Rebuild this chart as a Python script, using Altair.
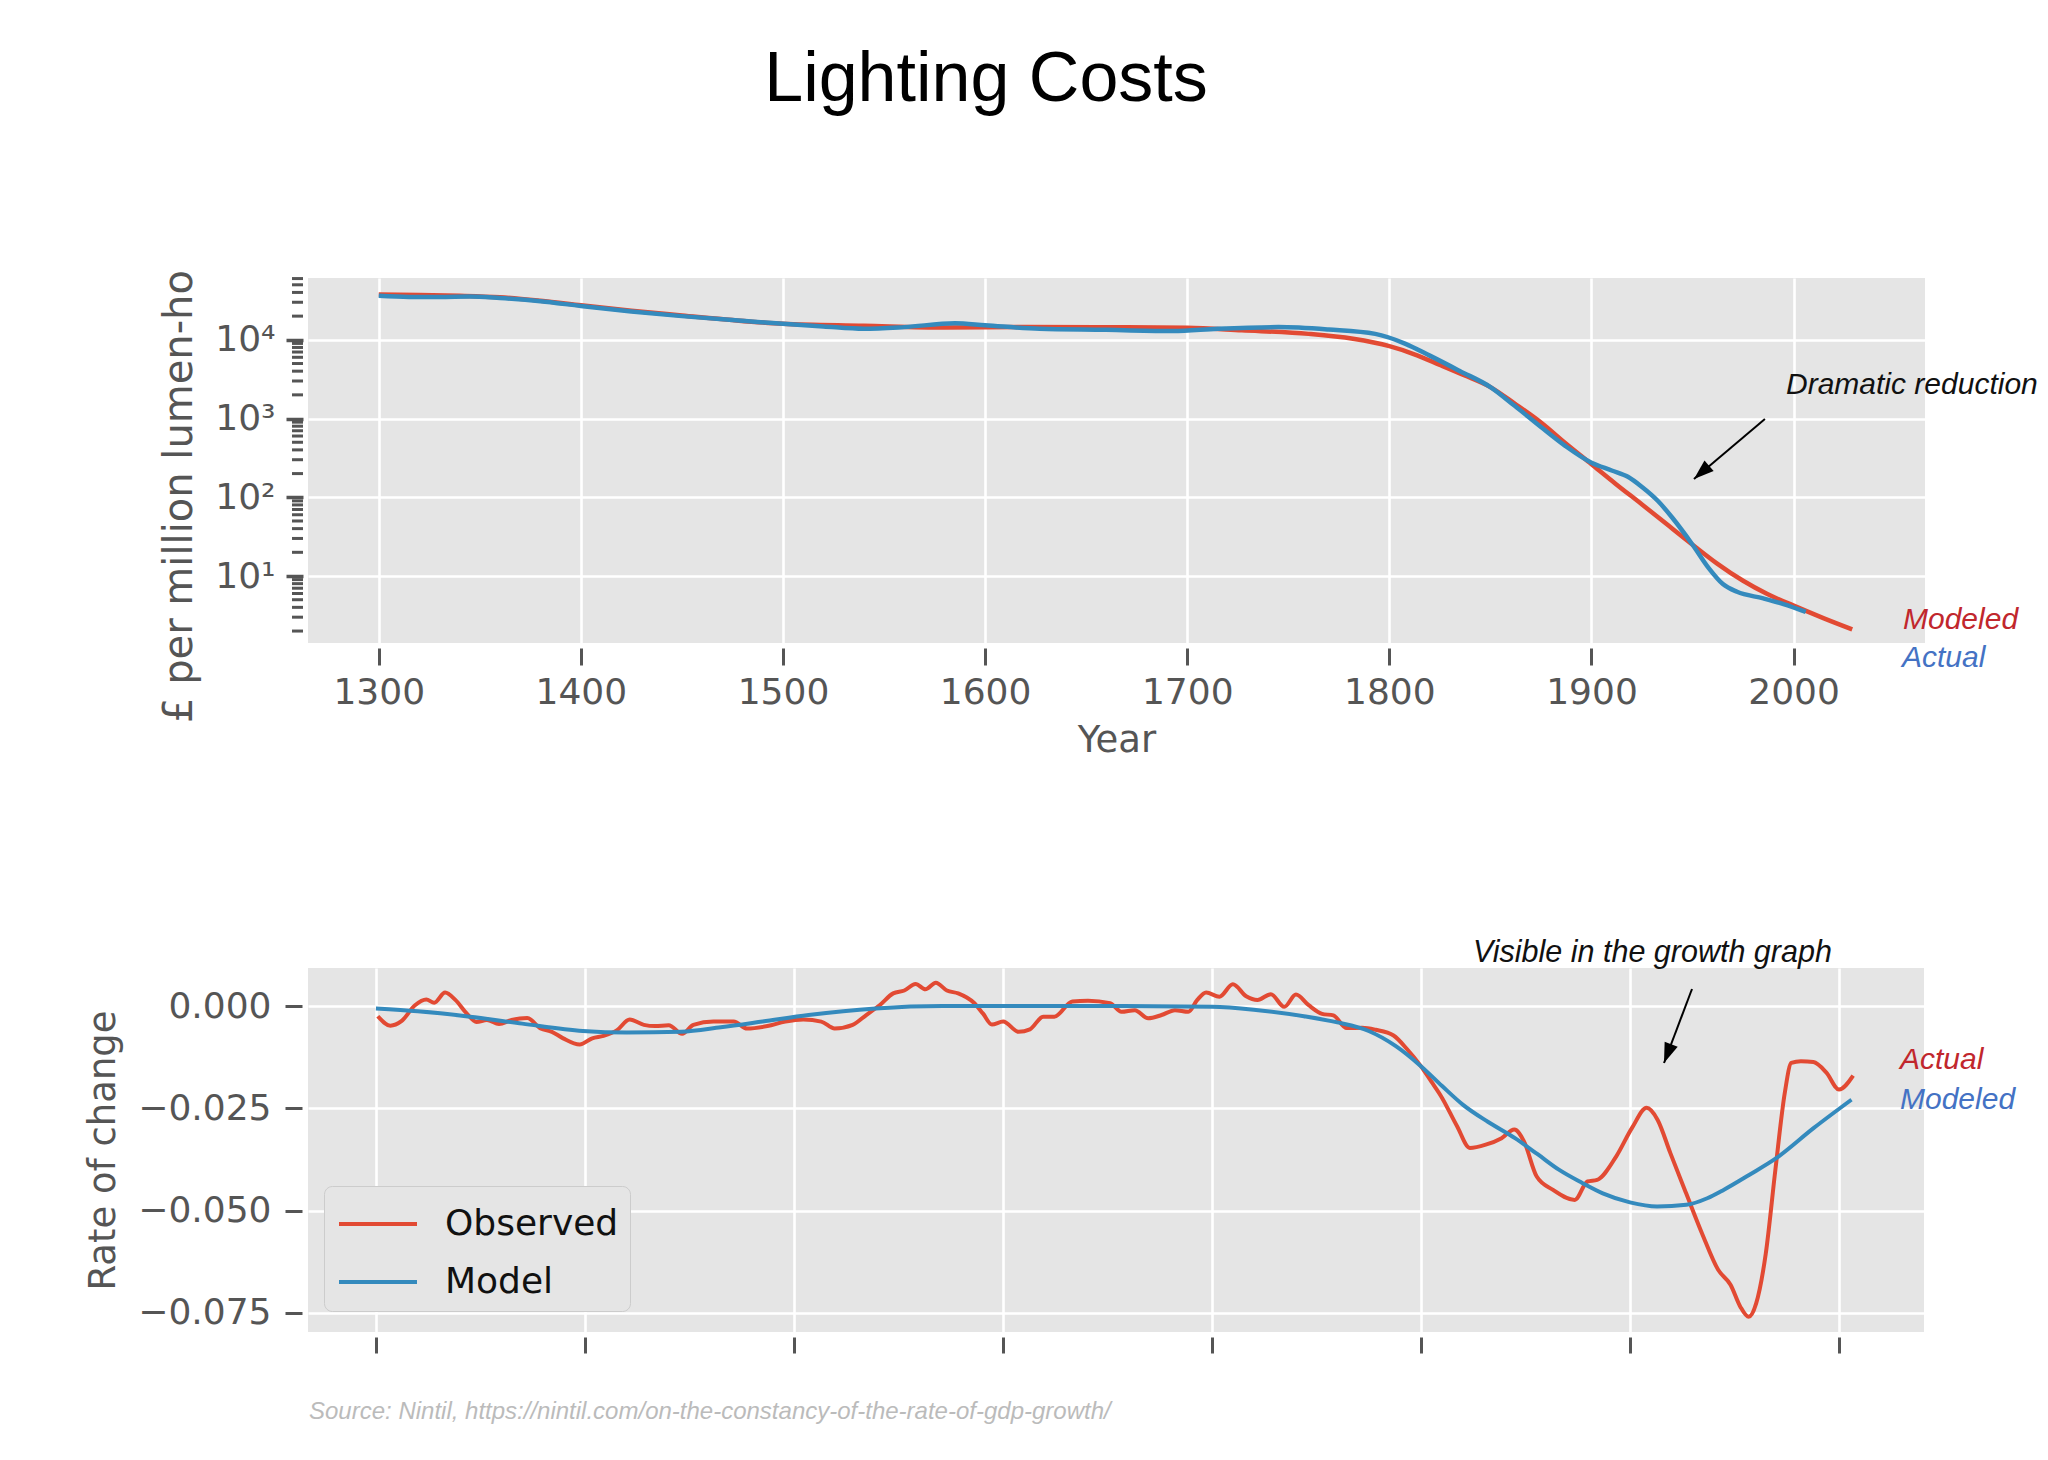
import altair as alt
import pandas as pd

# ---------------- data: top panel (cost, log scale) ----------------
model_years = [1300, 1320, 1340, 1360, 1380, 1400, 1425, 1450, 1475, 1500, 1540, 1580,
               1620, 1660, 1700, 1727, 1760, 1782, 1800, 1812, 1825, 1837, 1850, 1862,
               1875, 1887, 1900, 1912, 1925, 1937, 1950, 1962, 1975, 1987, 2000, 2015, 2029]
model_cost = [37600, 37150, 36300, 34700, 31300, 27500, 23400, 20400, 17800, 16000, 15100, 14300,
              14600, 14450, 14200, 13200, 11900, 10300, 8300, 6600, 4800, 3550, 2510, 1550,
              890, 490, 263, 148, 81, 46, 25, 14.5, 8.7, 5.9, 4.2, 2.9, 2.1]

actual_years = [1300, 1315, 1330, 1345, 1360, 1380, 1400, 1425, 1450, 1475, 1500, 1520, 1540,
                1560, 1585, 1600, 1627, 1660, 1693, 1715, 1745, 1770, 1793, 1808, 1820, 1835,
                1850, 1862, 1875, 1887, 1900, 1910, 1918, 1925, 1933, 1940, 1950, 1958, 1965,
                1972, 1985, 1995, 2006]
actual_cost = [36300, 35100, 35100, 35500, 33900, 30900, 26900, 22900, 20000, 17800, 16000, 14800, 13800,
               14500, 16200, 15300, 13800, 13400, 12900, 13800, 14500, 13500, 11900, 8900, 6300, 4000,
               2510, 1450, 780, 450, 275, 219, 182, 135, 89, 55, 25, 12.6, 7.9,
               6.3, 5.2, 4.4, 3.5]

# ---------------- data: bottom panel (rate of change) ----------------
obs_years = [1300.9, 1306.9, 1312.2, 1318.7, 1324.1, 1327.9, 1333.1, 1338.0, 1343.4, 1348.1,
             1353.1, 1358.9, 1364.9, 1372.4, 1378.8, 1384.2, 1389.6, 1397.5, 1403.5, 1408.9,
             1415.4, 1421.4, 1428.2, 1433.6, 1440.1, 1446.5, 1451.9, 1461.5, 1471.2, 1477.6,
             1487.3, 1495.9, 1504.5, 1513.1, 1519.5, 1528.1, 1534.6, 1541.0, 1547.5, 1552.8,
             1558.2, 1562.9, 1567.9, 1573.2, 1578.6, 1586.1, 1590.4, 1594.7, 1600.1, 1607.5,
             1612.9, 1619.3, 1624.6, 1633.2, 1640.7, 1651.3, 1656.7, 1663.1, 1669.5, 1675.9,
             1682.3, 1688.7, 1693.0, 1697.2, 1703.6, 1710.0, 1716.4, 1721.8, 1728.2, 1734.6,
             1740.2, 1746.3, 1752.7, 1758.1, 1764.5, 1771.9, 1778.3, 1786.9, 1793.3, 1799.7,
             1805.0, 1809.7, 1817.3, 1823.4, 1831.0, 1838.6, 1844.7, 1849.3, 1855.4, 1863.0,
             1873.6, 1879.7, 1884.3, 1893.4, 1901.0, 1908.0, 1913.2, 1919.3, 1926.9, 1934.5,
             1942.2, 1948.2, 1952.8, 1956.8, 1960.4, 1965.0, 1969.6, 1974.1, 1977.2, 1981.8,
             1987.8, 1994.0, 2000.0, 2006.8]
obs_rate = [-0.0025, -0.0048, -0.0037, 0.0002, 0.0016, 0.0008, 0.0033, 0.0015, -0.0018, -0.0039,
            -0.0034, -0.0044, -0.0034, -0.0029, -0.0055, -0.0063, -0.0079, -0.0094, -0.0079, -0.0073,
            -0.0059, -0.0033, -0.0046, -0.0049, -0.0047, -0.0068, -0.0046, -0.0038, -0.0038, -0.0055,
            -0.0049, -0.0038, -0.0033, -0.0038, -0.0055, -0.0046, -0.0022, 0.0002, 0.0031, 0.0038,
            0.0054, 0.0041, 0.0057, 0.0038, 0.0031, 0.0008, -0.0018, -0.0045, -0.0038, -0.0063,
            -0.0057, -0.0026, -0.0026, 0.0011, 0.0013, 0.0007, -0.0014, -0.0010, -0.0030, -0.0022,
            -0.0010, -0.0014, 0.0015, 0.0033, 0.0023, 0.0053, 0.0024, 0.0015, 0.0029, -0.0002,
            0.0028, 0.0002, -0.0019, -0.0023, -0.0054, -0.0053, -0.0058, -0.0072, -0.0105, -0.0145,
            -0.0185, -0.0221, -0.0294, -0.0347, -0.0339, -0.0323, -0.0302, -0.0331, -0.0417, -0.0449,
            -0.0474, -0.0429, -0.0425, -0.0368, -0.0298, -0.0249, -0.0278, -0.0359, -0.0458, -0.0556,
            -0.0645, -0.0682, -0.0735, -0.0760, -0.0727, -0.0605, -0.0400, -0.0212, -0.0139, -0.0135,
            -0.0137, -0.0163, -0.0204, -0.0170]

fit_years = [1300, 1320, 1345, 1370, 1399, 1420, 1446, 1465, 1485, 1507, 1539, 1571, 1600,
             1650, 1700, 1720, 1744, 1760, 1775, 1788, 1800, 1810, 1820, 1832, 1845, 1856,
             1866, 1877, 1887, 1900, 1913, 1927, 1937, 1945, 1957, 1970, 1988, 2006]
fit_rate = [-0.0006, -0.0013, -0.0026, -0.0043, -0.0061, -0.0065, -0.0063, -0.0052, -0.0038,
            -0.0022, -0.0006, 0.0000, 0.0000, 0.0000, -0.0002, -0.0009, -0.0025, -0.0040,
            -0.0061, -0.0098, -0.0147, -0.0195, -0.0241, -0.0283, -0.0323, -0.0363, -0.0400,
            -0.0432, -0.0458, -0.0480, -0.0490, -0.0486, -0.0470, -0.0449, -0.0413, -0.0372,
            -0.0298, -0.0229]

# ---------------- ticks / labels ----------------
year_ticks = [1300, 1400, 1500, 1600, 1700, 1800, 1900, 2000]
cost_major = [10, 100, 1000, 10000]
cost_minor = [k * 10 ** n for n in range(0, 5) for k in range(2, 10) if 1.41 <= k * 10 ** n <= 61000]
rate_ticks = [0.0, -0.025, -0.05, -0.075]

# annotation arrows (tail -> tip, in data units)
top_arrow = {"x": [1985.8], "y": [986], "x2": [1950.7], "y2": [171]}
bot_arrow = {"x": [1929.7], "y": [0.00417], "x2": [1916.3], "y2": [-0.01393]}

TITLE = "Lighting Costs"
TOP_YTITLE = "£ per million lumen-ho"
SOURCE = "Source: Nintil, https://nintil.com/on-the-constancy-of-the-rate-of-gdp-growth/"

RED = "#E24A33"
BLUE = "#348ABD"
LBL_RED = "#C1272D"
LBL_BLUE = "#4472C4"
GREY = "#555555"
HEAD = "M0,0L0.7,2L-0.7,2Z"

W1, H1 = 1617, 365
W2, H2 = 1616, 364

xs_top = alt.Scale(domain=[1265, 2065], nice=False, zero=False)
ys_top = alt.Scale(type="log", domain=[1.41, 61000], nice=False)
xs_bot = alt.Scale(domain=[1267.5, 2040.7], nice=False, zero=False)
ys_bot = alt.Scale(domain=[-0.0797, 0.0093], nice=False, zero=False)

x_axis_top = alt.Axis(values=year_ticks, format="d", title="Year", tickSize=17, offset=5,
                      tickWidth=3, labelPadding=10, titlePadding=12, labelFontSize=36,
                      titleFontSize=37, grid=True)
y_axis_top = alt.Axis(values=cost_major, title=None, tickSize=17, offset=5, tickWidth=3.5,
                      labelPadding=11, labelFontSize=36, grid=True, labelOverlap=False,
                      labelExpr="datum.value == 10 ? '10¹' : datum.value == 100 ? '10²' : "
                                "datum.value == 1000 ? '10³' : '10⁴'")
x_axis_bot = alt.Axis(values=year_ticks, labels=False, title=None, tickSize=16, offset=5,
                      tickWidth=3, grid=True)
y_axis_bot = alt.Axis(values=rate_ticks, format=".3f", title="Rate of change", tickSize=17,
                      offset=6, tickWidth=3, labelPadding=14, titlePadding=15,
                      labelFontSize=36, titleFontSize=37, grid=True)


def label(text, px, py, size, color="#111111", italic=True, align="left",
          baseline="middle", font="Liberation Sans", angle=0):
    props = dict(text=text, fontSize=size, color=color, align=align, baseline=baseline,
                 font=font, fontStyle="italic" if italic else "normal")
    if angle:
        props["angle"] = angle
    return alt.Chart(pd.DataFrame({"t": [text]})).mark_text(**props).encode(
        x=alt.value(px), y=alt.value(py))


# ---------------- top panel ----------------
model_df = pd.DataFrame({"year": model_years, "cost": model_cost})
actual_df = pd.DataFrame({"year": actual_years, "cost": actual_cost})

model_line = alt.Chart(model_df).mark_line(color=RED, strokeWidth=4.5, interpolate="monotone").encode(
    x=alt.X("year:Q", scale=xs_top, axis=x_axis_top),
    y=alt.Y("cost:Q", scale=ys_top, axis=y_axis_top),
)
actual_line = alt.Chart(actual_df).mark_line(color=BLUE, strokeWidth=4.5, interpolate="monotone").encode(
    x=alt.X("year:Q", scale=xs_top, axis=x_axis_top),
    y=alt.Y("cost:Q", scale=ys_top, axis=y_axis_top),
)

minor_ticks = alt.Chart(pd.DataFrame({"v": cost_minor})).mark_rule(
    color=GREY, strokeWidth=3).encode(
    y=alt.Y("v:Q", scale=ys_top, axis=y_axis_top),
    x=alt.value(-16), x2=alt.value(-5))

ta = pd.DataFrame(top_arrow)
top_shaft = alt.Chart(ta).mark_rule(color="black", strokeWidth=2).encode(
    x=alt.X("x:Q", scale=xs_top, axis=x_axis_top),
    y=alt.Y("y:Q", scale=ys_top, axis=y_axis_top),
    x2="x2:Q", y2="y2:Q")
top_head = alt.Chart(ta).mark_point(shape=HEAD, filled=True, size=400, angle=229,
                                    color="black", opacity=1, strokeWidth=0).encode(
    x=alt.X("x2:Q", scale=xs_top, axis=x_axis_top),
    y=alt.Y("y2:Q", scale=ys_top, axis=y_axis_top))

pin = alt.Chart(pd.DataFrame({"p": [0]})).mark_rule(strokeOpacity=0, strokeWidth=1).encode(
    x=alt.value(-300), x2=alt.value(-300), y=alt.value(-270), y2=alt.value(-268))

top = alt.layer(
    pin,
    model_line,
    actual_line,
    minor_ticks,
    top_shaft,
    top_head,
    label(TITLE, 678, -177, 70, color="black", italic=False, align="center", baseline="alphabetic"),
    label(TOP_YTITLE, -128, 445, 40, color=GREY, italic=False, font="DejaVu Sans", angle=270),
    label("Dramatic reduction", 1478, 107, 30),
    label("Modeled", 1595, 342, 30, color=LBL_RED),
    label("Actual", 1594, 380, 30, color=LBL_BLUE),
).properties(width=W1, height=H1)

# ---------------- bottom panel ----------------
bot_df = pd.concat([
    pd.DataFrame({"year": obs_years, "rate": obs_rate, "series": "Observed"}),
    pd.DataFrame({"year": fit_years, "rate": fit_rate, "series": "Model"}),
])

bot_lines = alt.Chart(bot_df).mark_line(strokeWidth=4, interpolate="monotone").encode(
    x=alt.X("year:Q", scale=xs_bot, axis=x_axis_bot),
    y=alt.Y("rate:Q", scale=ys_bot, axis=y_axis_bot),
    color=alt.Color("series:N",
                    scale=alt.Scale(domain=["Observed", "Model"], range=[RED, BLUE]),
                    legend=alt.Legend(orient="none", legendX=16, legendY=218, title=None,
                                      symbolType="M-1.56,0L1.56,0", symbolSize=2500,
                                      symbolStrokeWidth=4, symbolOffset=16, labelOffset=40,
                                      labelFontSize=36, labelFont="DejaVu Sans",
                                      labelColor="#111111", labelLimit=500,
                                      rowPadding=13, padding=11,
                                      fillColor="#E5E5E5", strokeColor="#CCCCCC",
                                      cornerRadius=8)),
    order=alt.Order("year:Q"),
)

ba = pd.DataFrame(bot_arrow)
bot_shaft = alt.Chart(ba).mark_rule(color="black", strokeWidth=2).encode(
    x=alt.X("x:Q", scale=xs_bot, axis=x_axis_bot),
    y=alt.Y("y:Q", scale=ys_bot, axis=y_axis_bot),
    x2="x2:Q", y2="y2:Q")
bot_head = alt.Chart(ba).mark_point(shape=HEAD, filled=True, size=400, angle=201,
                                    color="black", opacity=1, strokeWidth=0).encode(
    x=alt.X("x2:Q", scale=xs_bot, axis=x_axis_bot),
    y=alt.Y("y2:Q", scale=ys_bot, axis=y_axis_bot))

bottom = alt.layer(
    bot_lines,
    bot_shaft,
    bot_head,
    label("Visible in the growth graph", 1165, -15, 30.5),
    label("Actual", 1592, 92, 30, color=LBL_RED),
    label("Modeled", 1592, 132, 30, color=LBL_BLUE),
    label(SOURCE, 1, 444, 24, color="#BBBBBB"),
).properties(width=W2, height=H2)

chart = alt.vconcat(top, bottom, spacing=325, bounds="flush").resolve_scale(
    color="independent"
).resolve_legend(
    color="independent"
).properties(
    padding=0, background="white"
).configure_view(
    fill="#E5E5E5", stroke=None
).configure_axis(
    labelFont="DejaVu Sans", titleFont="DejaVu Sans", labelColor=GREY, titleColor=GREY,
    titleFontWeight="normal", domain=False, tickColor=GREY, gridColor="white", gridWidth=2.6,
)

chart.save("out.html", embed_options={"renderer": "svg", "actions": False})
